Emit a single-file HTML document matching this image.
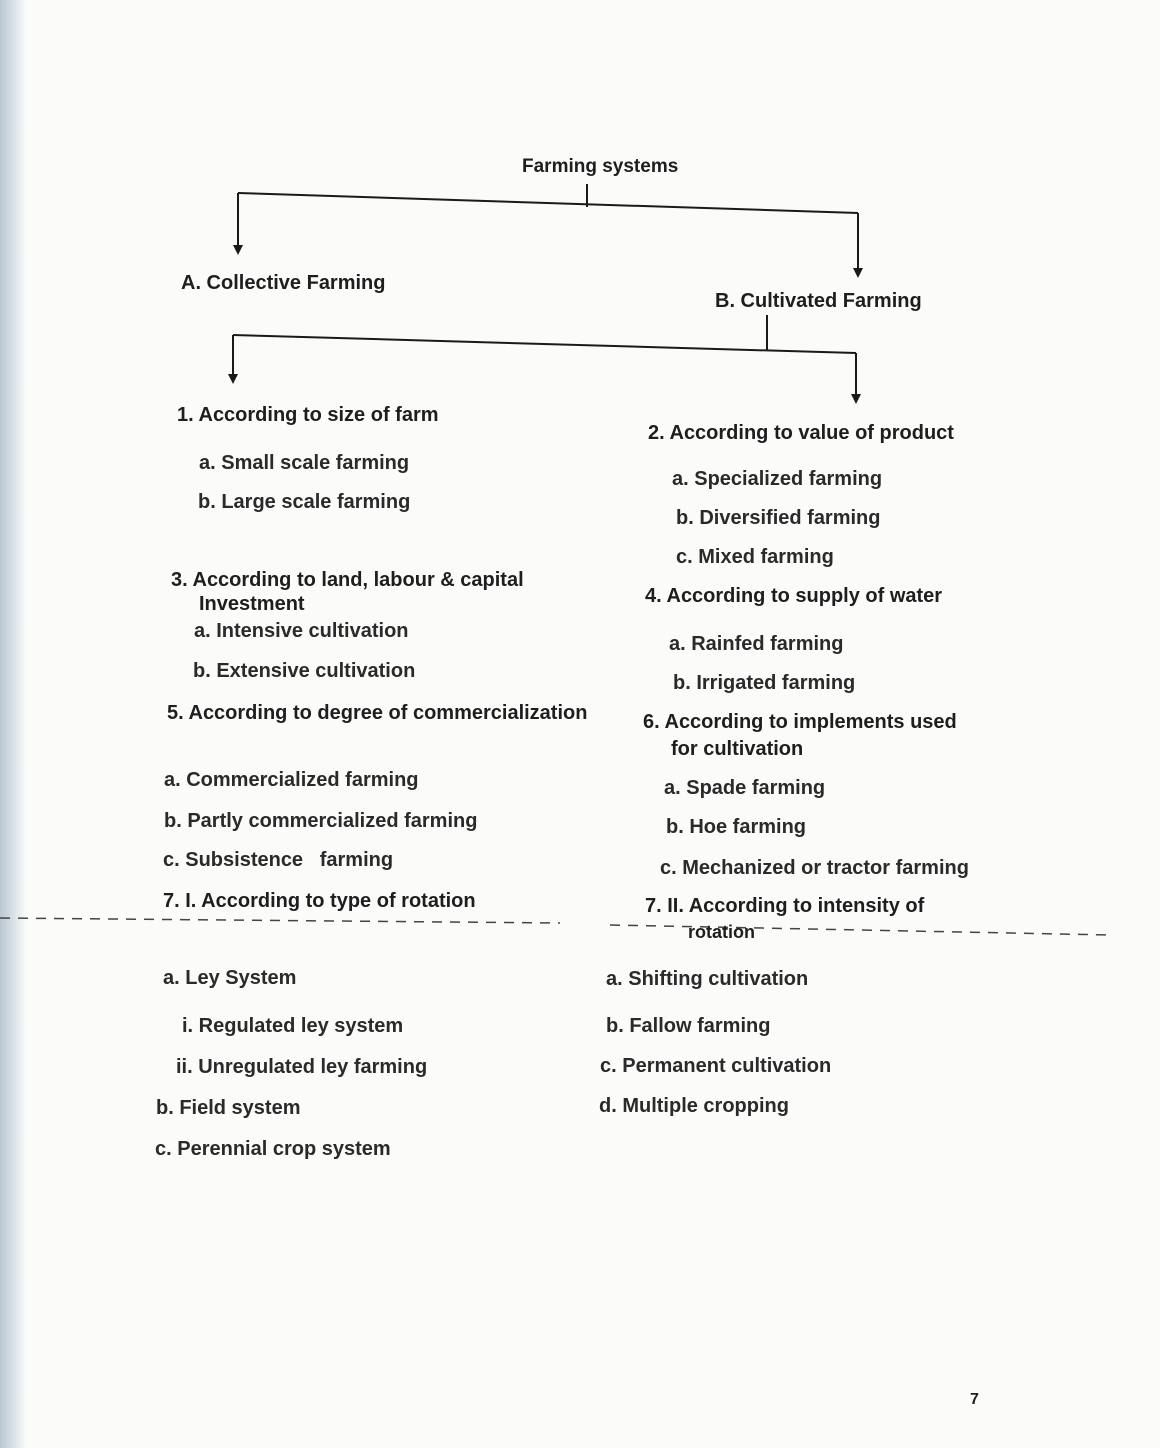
<!DOCTYPE html>
<html><head><meta charset="utf-8"><style>
html,body{margin:0;padding:0}
body{width:1160px;height:1448px;position:relative;overflow:hidden;background:#fbfbfa;font-family:"Liberation Sans",sans-serif;}
.edge{position:absolute;left:0;top:0;width:26px;height:1448px;background:linear-gradient(to right,#b9c7d3,#dfe5ea 60%,#fbfbfa)}
.t{position:absolute;font-size:20px;font-weight:bold;color:#1e1e1e;white-space:pre;line-height:22px}
.i{color:#2a2a2a}
svg{position:absolute;left:0;top:0}
</style></head><body>
<div class="edge"></div>
<svg width="1160" height="1448" stroke="#1a1a1a" stroke-width="2" fill="#1a1a1a">
<line x1="238" y1="193" x2="858" y2="213"/>
<line x1="587" y1="184" x2="587" y2="207"/>
<line x1="238" y1="193" x2="238" y2="246"/><polygon points="233,245 243,245 238,255" stroke="none"/>
<line x1="858" y1="213" x2="858" y2="270"/><polygon points="853,268 863,268 858,278" stroke="none"/>
<line x1="233" y1="335" x2="856" y2="353"/>
<line x1="767" y1="315" x2="767" y2="350"/>
<line x1="233" y1="335" x2="233" y2="376"/><polygon points="228,374 238,374 233,384" stroke="none"/>
<line x1="856" y1="353" x2="856" y2="396"/><polygon points="851,394 861,394 856,404" stroke="none"/>
<line x1="0" y1="918" x2="560" y2="923" stroke-width="1.5" stroke-dasharray="10 8" stroke="#444"/>
<line x1="610" y1="925" x2="1110" y2="935" stroke-width="1.5" stroke-dasharray="10 8" stroke="#444"/>
</svg>
<div class="t" style="left:522px;top:156px;font-size:19px">Farming systems</div>
<div class="t" style="left:181px;top:272px">A. Collective Farming</div>
<div class="t" style="left:715px;top:290px">B. Cultivated Farming</div>
<div class="t" style="left:177px;top:404px">1. According to size of farm</div>
<div class="t i" style="left:199px;top:452px">a. Small scale farming</div>
<div class="t i" style="left:198px;top:491px">b. Large scale farming</div>
<div class="t" style="left:648px;top:422px">2. According to value of product</div>
<div class="t i" style="left:672px;top:468px">a. Specialized farming</div>
<div class="t i" style="left:676px;top:507px">b. Diversified farming</div>
<div class="t i" style="left:676px;top:546px">c. Mixed farming</div>
<div class="t" style="left:171px;top:569px">3. According to land, labour &amp; capital</div>
<div class="t" style="left:199px;top:593px">Investment</div>
<div class="t" style="left:645px;top:585px">4. According to supply of water</div>
<div class="t i" style="left:194px;top:620px">a. Intensive cultivation</div>
<div class="t i" style="left:669px;top:633px">a. Rainfed farming</div>
<div class="t i" style="left:193px;top:660px">b. Extensive cultivation</div>
<div class="t i" style="left:673px;top:672px">b. Irrigated farming</div>
<div class="t" style="left:167px;top:702px">5. According to degree of commercialization</div>
<div class="t" style="left:643px;top:711px">6. According to implements used</div>
<div class="t" style="left:671px;top:738px">for cultivation</div>
<div class="t i" style="left:164px;top:769px">a. Commercialized farming</div>
<div class="t i" style="left:664px;top:777px">a. Spade farming</div>
<div class="t i" style="left:164px;top:810px">b. Partly commercialized farming</div>
<div class="t i" style="left:666px;top:816px">b. Hoe farming</div>
<div class="t i" style="left:163px;top:849px">c. Subsistence   farming</div>
<div class="t i" style="left:660px;top:857px">c. Mechanized or tractor farming</div>
<div class="t" style="left:163px;top:890px">7. I. According to type of rotation</div>
<div class="t" style="left:645px;top:895px">7. II. According to intensity of</div>
<div class="t" style="left:688px;top:921px;font-size:18px">rotation</div>
<div class="t i" style="left:163px;top:967px">a. Ley System</div>
<div class="t i" style="left:606px;top:968px">a. Shifting cultivation</div>
<div class="t i" style="left:182px;top:1015px">i. Regulated ley system</div>
<div class="t i" style="left:606px;top:1015px">b. Fallow farming</div>
<div class="t i" style="left:176px;top:1056px">ii. Unregulated ley farming</div>
<div class="t i" style="left:600px;top:1055px">c. Permanent cultivation</div>
<div class="t i" style="left:156px;top:1097px">b. Field system</div>
<div class="t i" style="left:599px;top:1095px">d. Multiple cropping</div>
<div class="t i" style="left:155px;top:1138px">c. Perennial crop system</div>
<div class="t" style="left:970px;top:1389px;font-size:16px">7</div>
</body></html>
